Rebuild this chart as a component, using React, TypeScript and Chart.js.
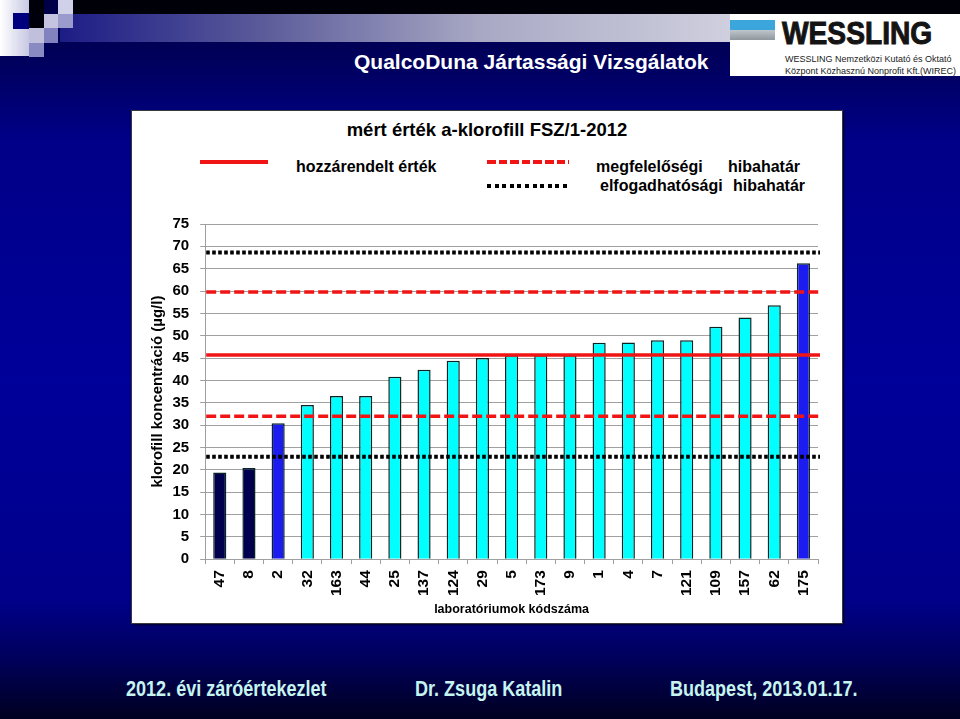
import React, { useEffect, useRef } from "react";
import { Chart, registerables } from "chart.js";
Chart.register(...registerables);

// ---- data ----
const labCodes = ["47", "8", "2", "32", "163", "44", "25", "137", "124", "29", "5", "173", "9", "1", "4", "7", "121", "109", "157", "62", "175"];
const measuredValues = [19.4, 20.4, 30.4, 34.5, 36.5, 36.5, 40.8, 42.4, 44.4, 45.0, 45.6, 45.6, 45.6, 48.4, 48.5, 49.0, 49.0, 52.0, 54.1, 56.8, 66.2];
const assignedValue = 45.7;
const complianceLimits = [32.0, 59.8];
const acceptanceLimits = [22.9, 68.6];
const yTicks = [0, 75, 5]; // min, max, step

const FONT = '"Liberation Sans", Arial, Helvetica, sans-serif';
const RED = "#f01414";
const NAVY = "#00004e";
const BLUE = "#1c1cf0";
const CYAN = "#00ffff";

function barColor(v: number) {
  if (v < acceptanceLimits[0] || v > acceptanceLimits[1]) return NAVY;
  if (v < complianceLimits[0] || v > complianceLimits[1]) return BLUE;
  return CYAN;
}

const limitLines = {
  id: "limitLines",
  afterDatasetsDraw(chart: any) {
    const { ctx, chartArea, scales } = chart;
    const y = scales.y;
    const draw = (v: number, color: string, width: number, dash: number[]) => {
      const py = y.getPixelForValue(v);
      ctx.save();
      ctx.beginPath();
      ctx.setLineDash(dash);
      ctx.lineWidth = width;
      ctx.strokeStyle = color;
      ctx.lineCap = "butt";
      ctx.moveTo(chartArea.left + 1, py);
      ctx.lineTo(chartArea.right + 2, py);
      ctx.stroke();
      ctx.restore();
    };
    acceptanceLimits.forEach((v) => draw(v, "#000000", 4, [3.6, 2.4]));
    complianceLimits.forEach((v) => draw(v, RED, 3.5, [10, 4]));
    draw(assignedValue, RED, 3.5, []);
  },
};

function ChartCanvas() {
  const ref = useRef<HTMLCanvasElement | null>(null);
  useEffect(() => {
    if (!ref.current) return;
    const chart = new Chart(ref.current, {
      type: "bar",
      data: {
        labels: labCodes,
        datasets: [
          {
            label: "mért érték",
            data: measuredValues,
            backgroundColor: measuredValues.map(barColor),
            borderColor: "#0a2424",
            borderWidth: 1.5,
            barPercentage: 0.45,
            categoryPercentage: 1,
          },
        ],
      },
      options: {
        animation: false,
        responsive: false,
        devicePixelRatio: 1,
        layout: { padding: { left: 10, right: 24, top: 24, bottom: 5 } },
        plugins: { legend: { display: false }, tooltip: { enabled: false }, title: { display: false } },
        scales: {
          x: {
            type: "category",
            offset: true,
            grid: { display: true, drawOnChartArea: false, offset: true, color: "#a0a0a0", tickLength: 5 },
            border: { display: true, color: "#a0a0a0", width: 1 },
            ticks: { autoSkip: false, minRotation: 90, maxRotation: 90, padding: 6, color: "#000", font: { family: FONT, size: 15.5, weight: "bold" } },
            title: { display: true, text: "laboratóriumok kódszáma", color: "#000", font: { family: FONT, size: 12.5, weight: "bold" }, padding: { top: 0, bottom: 1 } },
          },
          y: {
            type: "linear",
            min: yTicks[0],
            max: yTicks[1],
            grid: { color: "#a0a0a0", lineWidth: 1, tickLength: 5 },
            border: { display: true, color: "#a0a0a0", width: 1 },
            ticks: { stepSize: yTicks[2], padding: 11, color: "#000", font: { family: FONT, size: 15, weight: "bold" } },
            title: { display: true, text: "klorofill koncentráció (µg/l)", color: "#000", font: { family: FONT, size: 15, weight: "bold", lineHeight: 1 }, padding: { top: 8.5, bottom: -4 } },
          },
        },
      } as any,
      plugins: [limitLines],
    });
    return () => chart.destroy();
  }, []);
  return <canvas ref={ref} width={710} height={423} style={{ position: "absolute", left: 0, top: 89, width: 710, height: 423 }} />;
}

const abs = (l: number, t: number, w: number, h: number, bg: string): React.CSSProperties => ({ position: "absolute", left: l, top: t, width: w, height: h, background: bg });

export default function App() {
  const txt: React.CSSProperties = { position: "absolute", fontFamily: FONT, fontWeight: "bold", whiteSpace: "nowrap", lineHeight: 1 };
  const foot: React.CSSProperties = { ...txt, color: "#c6f4f0", fontSize: 22, transform: "scaleX(0.82)", transformOrigin: "left center", top: 678 };
  return (
    <div style={{ position: "absolute", left: 0, top: 0, width: 960, height: 719, overflow: "hidden", background: "linear-gradient(to bottom, #000046 0px, #00005c 60px, #000088 140px, #00009a 380px, #00008a 600px, #00005a 660px, #000020 719px)" }}>
      {/* header bands */}
      <div style={abs(60, 0, 900, 14, "#000008")} />
      <div style={abs(60, 14, 900, 28, "linear-gradient(to right, #1c1c86 0px, #5a5a9a 200px, #a8a8c4 420px, #d4d4e2 700px)")} />
      {/* decorative squares */}
      <div style={abs(0, 0, 29, 56, "linear-gradient(to right, #ffffff, #c8c8e4)")} />
      <div style={abs(13, 13, 16, 16, "#00007e")} />
      <div style={abs(29, 0, 15, 28, "#00000a")} />
      <div style={abs(44, 14, 14, 14, "#c4c4e0")} />
      <div style={abs(58, 0, 15, 14, "#d0d0e8")} />
      <div style={abs(58, 14, 15, 14, "#9a9acc")} />
      <div style={abs(29, 28, 15, 15, "#c0c0dc")} />
      <div style={abs(44, 28, 14, 15, "#8282c0")} />
      <div style={abs(29, 43, 15, 14, "#8a8ac2")} />
      {/* header title */}
      <div style={{ ...txt, color: "#ffffff", fontSize: 21, left: 354, top: 51 }}>QualcoDuna Jártassági Vizsgálatok</div>
      {/* logo */}
      <div style={abs(730, 14, 230, 62, "#ffffff")}>
        <div style={abs(0, 6, 45, 10, "#3aa6dc")} />
        <div style={abs(0, 16, 45, 10, "linear-gradient(to bottom, #bfc6cc, #8f979e)")} />
        <div style={{ ...txt, color: "#141414", fontSize: 32, left: 52, top: 3, transform: "scaleX(0.88)", transformOrigin: "left center", WebkitTextStroke: "1px #141414" } as React.CSSProperties}>WESSLING</div>
        <div style={{ ...txt, fontWeight: "normal", color: "#222", fontSize: 9, left: 55, top: 41 }}>WESSLING Nemzetközi Kutató és Oktató</div>
        <div style={{ ...txt, fontWeight: "normal", color: "#222", fontSize: 9, left: 55, top: 53 }}>Központ Közhasznú Nonprofit Kft.(WIREC)</div>
      </div>
      {/* chart panel */}
      <div style={{ position: "absolute", left: 132, top: 111, width: 710, height: 512, background: "#ffffff", boxShadow: "2px 2px 2px rgba(0,0,0,0.7)", outline: "1px solid #3a3a3a" }}>
        <div style={{ ...txt, color: "#000", fontSize: 18.5, left: 0, width: 710, textAlign: "center", top: 10 }}>mért érték a-klorofill FSZ/1-2012</div>
        <div style={abs(68, 49, 68, 3.5, RED)} />
        <div style={{ ...txt, color: "#000", fontSize: 16, left: 164, top: 48 }}>hozzárendelt érték</div>
        <div style={abs(355, 49, 82, 3.5, `repeating-linear-gradient(to right, ${RED} 0px, ${RED} 8.5px, transparent 8.5px, transparent 11.6px)`)} />
        <div style={{ ...txt, color: "#000", fontSize: 16, left: 464, top: 48 }}>megfelelőségi</div>
        <div style={{ ...txt, color: "#000", fontSize: 16, left: 596, top: 48 }}>hibahatár</div>
        <div style={abs(355, 73, 84, 4, "repeating-linear-gradient(to right, #000 0px, #000 4px, transparent 4px, transparent 7.6px)")} />
        <div style={{ ...txt, color: "#000", fontSize: 16, left: 468, top: 67 }}>elfogadhatósági</div>
        <div style={{ ...txt, color: "#000", fontSize: 16, left: 601, top: 67 }}>hibahatár</div>
        <ChartCanvas />
      </div>
      {/* footer */}
      <div style={{ ...foot, left: 126 }}>2012. évi záróértekezlet</div>
      <div style={{ ...foot, left: 415 }}>Dr. Zsuga Katalin</div>
      <div style={{ ...foot, left: 670 }}>Budapest, 2013.01.17.</div>
    </div>
  );
}
